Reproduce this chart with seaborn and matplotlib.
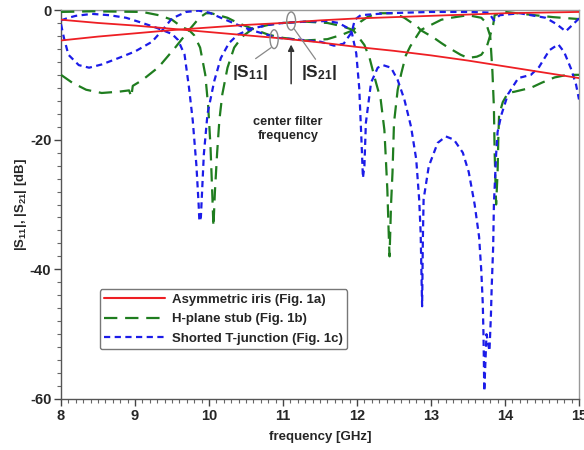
import matplotlib
matplotlib.use('Agg')
import matplotlib.pyplot as plt
import seaborn as sns
import pandas as pd
from matplotlib.lines import Line2D
from matplotlib.patches import Ellipse
from matplotlib.ticker import MultipleLocator

# ---------------- data ----------------
red_s11_f = [8, 8.5, 9, 9.5, 10, 10.5, 11, 11.5, 12, 12.5, 13, 13.5, 14, 14.5, 15]
red_s11_db = [-1.5, -2.0, -2.4, -2.9, -3.4, -3.9, -4.4, -5.0, -5.7, -6.3, -7.0, -7.8, -8.7, -9.6, -10.5]
red_s21_f = [8, 8.5, 9, 9.5, 10, 10.5, 11, 11.5, 12, 12.5, 13, 13.5, 14, 14.5, 15]
red_s21_db = [-4.7, -4.1, -3.6, -3.1, -2.7, -2.3, -2.0, -1.6, -1.3, -1.1, -0.9, -0.7, -0.5, -0.4, -0.3]

green_s21_f = [8.0, 8.42, 9.1, 9.32, 9.5, 9.63, 9.73, 9.8, 9.88, 9.95, 9.99, 10.02, 10.04, 10.06,
               10.08, 10.11, 10.14, 10.18, 10.25, 10.34, 10.45, 10.59, 10.8, 11.0, 11.3, 11.6, 11.8,
               11.95, 12.1, 12.17, 12.24, 12.32, 12.37, 12.39, 12.41, 12.43, 12.44, 12.46, 12.48,
               12.5, 12.55, 12.6, 12.66, 12.72, 12.86, 13.14, 13.27, 13.5, 13.68, 13.74, 13.8, 13.83,
               13.85, 13.86, 13.88, 13.9, 13.91, 13.92, 13.97, 14.04, 14.13, 14.35, 14.5, 14.67,
               14.8, 14.94, 15.0]
green_s21_db = [-0.3, -0.2, -0.3, -0.8, -1.5, -2.6, -3.1, -3.9, -5.8, -10, -15, -21, -27, -33.4,
                -28, -22, -17, -13, -8.9, -5.8, -4.1, -2.9, -2.3, -2.0, -1.8, -2.0, -2.5,
                -3.1, -5.4, -7.4, -10.5, -13.8, -18.5, -23, -27.7, -35, -38, -30, -25,
                -17.4, -12.3, -9.7, -7.0, -5.6, -3.1, -1.5, -1.2, -0.8, -1.2, -1.9, -4.0, -9.5,
                -15, -22, -30, -25, -19.7, -16.2, -14.2, -12.8, -12.6, -12.0, -11.2, -10.4,
                -10.1, -10.0, -10.0]
green_s11_f = [8.0, 8.15, 8.34, 8.55, 8.78, 8.92, 8.95, 8.97, 9.1, 9.32, 9.55, 9.73, 9.87, 9.96,
               10.03, 10.25, 10.39, 10.59, 10.8, 11.0, 11.3, 11.6, 11.8, 11.95, 12.05, 12.14, 12.28,
               12.5, 12.64, 12.82, 12.86, 13.04, 13.14, 13.22, 13.4, 13.5, 13.62, 13.68, 13.75,
               13.79, 13.84, 13.86, 14.0, 14.4, 14.65, 15.0]
green_s11_db = [-10, -11.2, -12.3, -12.8, -12.6, -12.4, -13.4, -11.7, -10.8, -8.8, -5.7, -3.1, -1.2, -0.5,
                -0.5, -1.2, -2.0, -2.9, -3.8, -4.3, -4.7, -4.5, -3.8, -3.1, -1.8, -1.1, -0.5,
                -0.5, -1.2, -2.6, -3.1, -4.3, -5.1, -5.7, -6.9, -7.4, -7.2, -6.9, -5.8,
                -4.3, -2.3, -0.8, -0.3, -0.8, -1.1, -1.4]

blue_s21_f = [8.0, 8.1, 8.2, 8.42, 8.65, 8.88, 9.1, 9.28, 9.37, 9.5, 9.58, 9.67, 9.73, 9.78, 9.83,
              9.86, 9.87, 9.89, 9.93, 9.98, 10.07, 10.16, 10.27, 10.39, 10.57, 10.8, 11.0, 11.3,
              11.6, 11.75, 11.88, 11.93, 11.99, 12.03, 12.06, 12.08, 12.1, 12.12, 12.19, 12.28,
              12.35, 12.46, 12.55, 12.64, 12.73, 12.8, 12.84, 12.86, 12.88, 12.89, 12.9, 12.97,
              13.09, 13.2, 13.31, 13.43, 13.51, 13.59, 13.65, 13.68, 13.7, 13.71, 13.72, 13.75,
              13.79, 13.81, 13.82, 13.84, 13.85, 13.88, 13.9, 13.95, 14.04, 14.18, 14.35, 14.46,
              14.6, 14.72, 14.8, 14.89, 14.96, 15.0]
blue_s21_db = [-1.6, -1.2, -0.9, -0.6, -0.8, -1.2, -2.0, -2.7, -3.1, -3.7, -4.6, -6.9, -12, -17, -24,
               -30, -32.6, -32, -22.3, -16, -11, -7.4, -5.1, -3.8, -2.9, -2.3, -2.0, -1.8,
               -1.7, -2.0, -2.8, -3.5, -6.7, -12.0, -20, -25.9, -24.1, -17.4, -11.2, -8.9,
               -8.5, -8.9, -10.8, -13.8, -18, -23, -29.2, -34.3, -45.7, -35.4, -29.2, -24.1,
               -20.5, -19.5, -20, -22, -25, -30, -35, -40.3, -45.4, -50.5, -58.8, -50,
               -52.6, -47, -42.8, -36.6, -30, -22.3, -18.8, -16.2, -13, -10.5, -10, -8.8,
               -6.2, -5.3, -6.5, -9, -11.5, -13.8]
blue_s11_f = [8.0, 8.04, 8.1, 8.24, 8.38, 8.55, 8.78, 9.0, 9.23, 9.37, 9.5, 9.69, 9.86, 10.0, 10.16,
              10.39, 10.57, 10.93, 11.24, 11.51, 11.69, 11.82, 11.93, 11.97, 12.05, 12.4, 13.0,
              13.5, 13.78, 13.85, 13.93, 14.2, 14.55, 14.7, 14.82, 14.92, 15.0]
blue_s11_db = [-2.2, -4.3, -6.9, -8.5, -8.9, -8.4, -7.4, -6.4, -4.9, -3.1, -1.3, -0.3, -0.1, -0.4, -1.2,
               -2.3, -3.1, -4.3, -4.6, -4.9, -5.5, -5.2, -3.4, -1.5, -0.8, -0.5, -0.3,
               -0.3, -0.4, -1.6, -0.8, -0.5, -1.2, -2.2, -3.3, -2.2, -1.3]

legend_labels = ["Asymmetric iris (Fig. 1a)", "H-plane stub (Fig. 1b)", "Shorted T-junction (Fig. 1c)"]
x_ticks = [8, 9, 10, 11, 12, 13, 14, 15]
y_ticks = [0, -20, -40, -60]

# ---------------- style ----------------
sns.set_theme(style='white')
plt.rcParams['font.family'] = ['Liberation Sans', 'DejaVu Sans']
plt.rcParams['font.weight'] = 'bold'
plt.rcParams['axes.unicode_minus'] = False
plt.rcParams['mathtext.fontset'] = 'custom'
plt.rcParams['mathtext.rm'] = 'Liberation Sans:bold'
plt.rcParams['mathtext.it'] = 'Liberation Sans:bold'
plt.rcParams['mathtext.bf'] = 'Liberation Sans:bold'
plt.rcParams['mathtext.default'] = 'rm'

RED = '#ee1f24'
GREEN = '#1f7d1f'
BLUE = '#1c1ce8'
red_ls = '-'
green_ls = (0, (6, 3.5))
blue_ls = (0, (2.8, 2.0))

fig = plt.figure(figsize=(5.84, 4.5), dpi=100)
ax = fig.add_axes([61 / 584, 1 - 399 / 450, 518 / 584, 389 / 450])

def draw(f, db, color, ls, lw, z):
    df = pd.DataFrame({'f': f, 'db': db})
    sns.lineplot(data=df, x='f', y='db', ax=ax, color=color, linestyle=ls, linewidth=lw,
                 estimator=None, sort=False, zorder=z)

draw(green_s11_f, green_s11_db, GREEN, green_ls, 1.6, 3)
draw(green_s21_f, green_s21_db, GREEN, green_ls, 1.6, 3)
draw(blue_s11_f, blue_s11_db, BLUE, blue_ls, 1.6, 4)
draw(blue_s21_f, blue_s21_db, BLUE, blue_ls, 1.6, 4)
draw(red_s11_f, red_s11_db, RED, red_ls, 1.3, 5)
draw(red_s21_f, red_s21_db, RED, red_ls, 1.3, 5)

ax.set_xlim(8, 15)
ax.set_ylim(-60, 0)
ax.set_xticks(x_ticks)
ax.set_yticks(y_ticks)
ax.xaxis.set_minor_locator(MultipleLocator(0.1))
ax.yaxis.set_minor_locator(MultipleLocator(2))
ax.tick_params(which='major', direction='out', length=5, width=1, color='#444',
               labelsize=10.5, pad=2, left=True, bottom=True, top=False, right=False)
ax.tick_params(which='minor', direction='out', length=3, width=0.8, color='#666',
               left=True, bottom=True, top=False, right=False)
for lab in ax.get_xticklabels() + ax.get_yticklabels():
    lab.set_fontweight('bold')

for s in ['left', 'bottom']:
    ax.spines[s].set_color('#555')
    ax.spines[s].set_linewidth(1.0)
for s in ['top', 'right']:
    ax.spines[s].set_color('#999')
    ax.spines[s].set_linewidth(1.0)

ax.set_xlabel('frequency [GHz]', fontsize=9.5, fontweight='bold')
ax.set_ylabel(r'|S$_{11}$|, |S$_{21}$| [dB]', fontsize=9.5, fontweight='bold')
ax.xaxis.set_label_coords(0.5, -0.083)
ax.yaxis.set_label_coords(-0.062, 0.5)

# legend
handles = [Line2D([], [], color=RED, lw=1.5, linestyle=red_ls),
           Line2D([], [], color=GREEN, lw=1.6, linestyle=green_ls),
           Line2D([], [], color=BLUE, lw=1.6, linestyle=blue_ls)]
leg = ax.legend(handles, legend_labels, loc='upper left', bbox_to_anchor=(0.075, 0.283),
                borderaxespad=0, frameon=True, fancybox=True, fontsize=9.5,
                handlelength=4.6, handletextpad=0.5, labelspacing=0.55, borderpad=0.35)
leg.get_frame().set_edgecolor('#777')
leg.get_frame().set_linewidth(1.0)
leg.get_frame().set_alpha(1)
for t in leg.get_texts():
    t.set_fontweight('bold')

# annotations
ax.add_patch(Ellipse((10.88, -4.5), 0.11, 2.9, fill=False, edgecolor='#888', lw=1.0, zorder=6))
ax.add_patch(Ellipse((11.11, -1.7), 0.12, 2.8, fill=False, edgecolor='#888', lw=1.0, zorder=6))
ax.plot([10.84, 10.63], [-5.8, -7.5], color='#888', lw=0.9, zorder=6)
ax.plot([11.15, 11.44], [-2.9, -7.6], color='#888', lw=0.9, zorder=6)
ax.text(10.55, -9.6, r'|S$_{11}$|', fontsize=12.5, fontweight='bold', ha='center', va='center')
ax.text(11.49, -9.6, r'|S$_{21}$|', fontsize=12.5, fontweight='bold', ha='center', va='center')
ax.annotate('', xy=(11.11, -4.9), xytext=(11.11, -11.8),
            arrowprops=dict(arrowstyle='-|>', color='#333', lw=1.1, mutation_scale=9))
ax.text(11.07, -18.4, 'center filter\nfrequency', fontsize=9.2, fontweight='bold',
        ha='center', va='center', linespacing=1.2)

fig.savefig('out.png', dpi=100)
